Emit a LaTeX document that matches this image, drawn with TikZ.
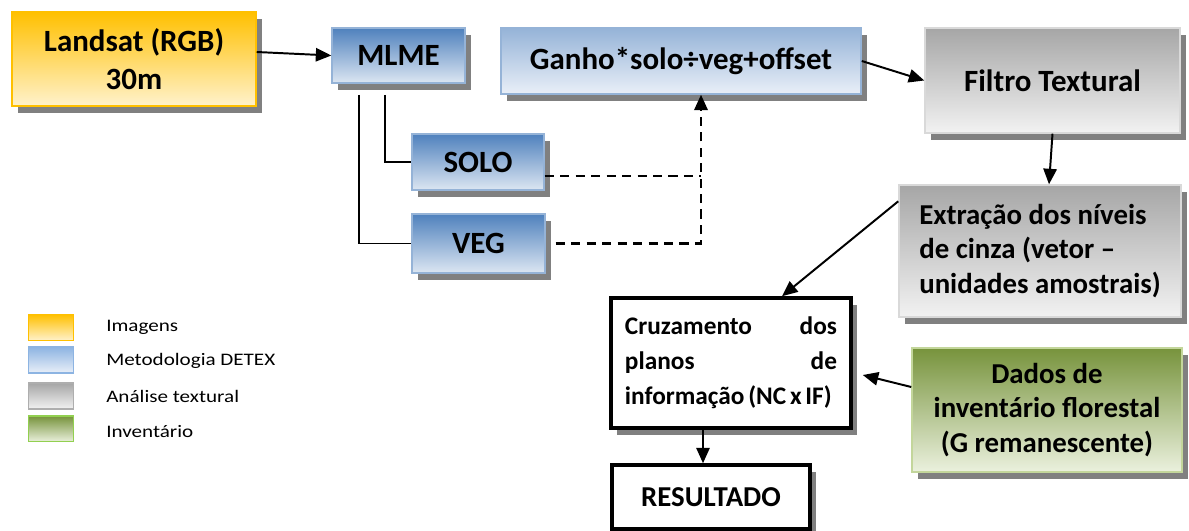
\documentclass[tikz,border=0pt]{standalone}
\usepackage{fontspec}
\setmainfont{Carlito}
\newfontfamily\legendfont[FakeStretch=1.2]{Carlito}
\usetikzlibrary{arrows.meta,shadows}
\definecolor{imgtop}{HTML}{FFC000}
\definecolor{imgbot}{HTML}{FFF2CC}
\definecolor{detextop}{HTML}{4F81BD}
\definecolor{detexbot}{HTML}{DCE6F2}
\definecolor{detexline}{HTML}{95B3D7}
\definecolor{ganhotop}{HTML}{95B3D7}
\definecolor{ganhobot}{HTML}{E9EFF8}
\definecolor{keyblue}{HTML}{8DB4E2}
\definecolor{textop}{HTML}{A6A6A6}
\definecolor{texbot}{HTML}{F2F2F2}
\definecolor{texline}{HTML}{D9D9D9}
\definecolor{invtop}{HTML}{77933C}
\definecolor{invbot}{HTML}{EBF1DE}
\definecolor{invline}{HTML}{C3D69B}
\definecolor{keygreen}{HTML}{92D050}
\definecolor{shadowgray}{HTML}{808080}
\newcommand{\bigfont}{\bfseries\fontsize{22}{27}\selectfont}
\newcommand{\midfont}{\bfseries\fontsize{20.5}{24.5}\selectfont}
\newcommand{\crossfont}{\bfseries\fontsize{18}{25}\selectfont}
\tikzset{%
    box/.style={%
        draw, line width=1pt, font=\bigfont, align=center, inner sep=0pt,
        drop shadow={shadow xshift=0.15cm, shadow yshift=-0.17cm, fill=shadowgray, opacity=1}
    },
    imgbox/.style={box, draw=imgtop, top color=imgtop, bottom color=imgbot},
    detexbox/.style={box, draw=detexline, top color=detextop, bottom color=detexbot},
    ganhobox/.style={box, draw=detexline, top color=ganhotop, bottom color=ganhobot},
    texbox/.style={box, draw=texline, top color=textop, bottom color=texbot},
    invbox/.style={box, draw=invline, top color=invtop, bottom color=invbot},
    resbox/.style={box, draw=black, line width=2.5pt, fill=white},
    arr/.style={-{Triangle[length=11pt, width=9.5pt]}, line width=1.4pt},
    link/.style={line width=1.1pt},
    dashline/.style={line width=1.8pt, dash pattern=on 6.5pt off 4.5pt},
    key/.style={draw, line width=1.2pt, minimum width=1.125cm, minimum height=0.65cm, inner sep=0pt},
    keytext/.style={anchor=west, inner sep=0pt, font=\legendfont\fontsize{12.5}{15}\selectfont}
}
\begin{document}
\begin{tikzpicture}[x=0.025cm, y=-0.025cm]
    \useasboundingbox (0,0) rectangle (1189,531);
    \node[imgbox, minimum width=6.1cm, minimum height=2.35cm] (landsat) at (134,59) {Landsat (RGB)\\30m};
    \node[detexbox, minimum width=3.325cm, minimum height=1.375cm] (mlme) at (398.5,55.5) {MLME};
    \node[ganhobox, minimum width=9cm, minimum height=1.65cm] (ganho) at (681,61) {Ganho*solo÷veg+offset};
    \node[texbox, minimum width=6.375cm, minimum height=2.625cm] (filtro) at (1052.5,80.5) {Filtro Textural};
    \node[texbox, minimum width=7.05cm, minimum height=3.3cm, align=left, font=\midfont] (extracao) at (1040,251) {Extração dos níveis\\de cinza (vetor –\\unidades amostrais)};
    \node[detexbox, minimum width=3.3cm, minimum height=1.4cm] (solo) at (478,162) {SOLO};
    \node[detexbox, minimum width=3.325cm, minimum height=1.475cm] (veg) at (478.5,243.5) {VEG};
    \node[resbox, minimum width=6cm, minimum height=3.25cm, text width=5.3cm, align=left, font=\crossfont] (cruz) at (731,363) {Cruzamento\hfill dos\\planos\hfill de\\\mbox{\spaceskip=0.15em\relax informação (NC x IF)}};
    \node[resbox, minimum width=4.95cm, minimum height=1.6cm, font=\midfont] (result) at (711,497) {RESULTADO};
    \node[invbox, minimum width=6.75cm, minimum height=3.1cm, font=\midfont] (dados) at (1047,410) {Dados de\\inventário florestal\\(G remanescente)};
    \coordinate (solotop) at (385,95);
    \coordinate (vegtop) at (359,95);
    \coordinate (split) at (701,176);
    \draw[arr]
        ([yshift=0.175cm]landsat.east) -- (mlme.west);
    \draw[arr] (ganho.east) -- (filtro.west);
    \draw[arr] (filtro.south) -- ([xshift=0.225cm]extracao.north);
    \draw[arr] ([yshift=-0.425cm]extracao.north west) -- ([xshift=1.275cm]cruz.north);
    \draw[arr] ([yshift=0.575cm]dados.west) -- ([xshift=0.25cm, yshift=-0.3cm]cruz.east);
    \draw[arr] ([xshift=-0.2cm]result.north |- cruz.south) -- ([xshift=-0.2cm]result.north);
    \draw[link]
        (solotop) |- (solo.west)
        (vegtop) |- (veg.west)
        ;
    \draw[dashline] (solo.east |- split) -- (split);
    \draw[dashline, -{Triangle[length=11pt, width=9.5pt]}] ([xshift=0.25cm]veg.east) -| (ganho.south -| split);
    \begin{scope}
        \clip (0,300) rectangle (400,441);
        \node[key, draw=imgtop, top color=imgtop, bottom color=imgbot] (keyimg) at (51,327.5) {};
        \node[key, draw=keyblue, top color=keyblue, bottom color=ganhobot] (keydetex) at (51,360) {};
        \node[key, draw=texline!80!black, top color=textop, bottom color=texbot] (keytex) at (51,396) {};
        \node[key, draw=keygreen, top color=invtop, bottom color=invbot] (keyinv) at (51,429) {};
        \node[keytext] (txtimg) at (106,327.5) {Imagens};
        \node[keytext] (txtdetex) at (106,361) {Metodologia DETEX};
        \node[keytext] (txttex) at (106,396) {Análise textural};
        \node[keytext] (txtinv) at (106,432) {Inventário};
    \end{scope}
\end{tikzpicture}
\end{document}
